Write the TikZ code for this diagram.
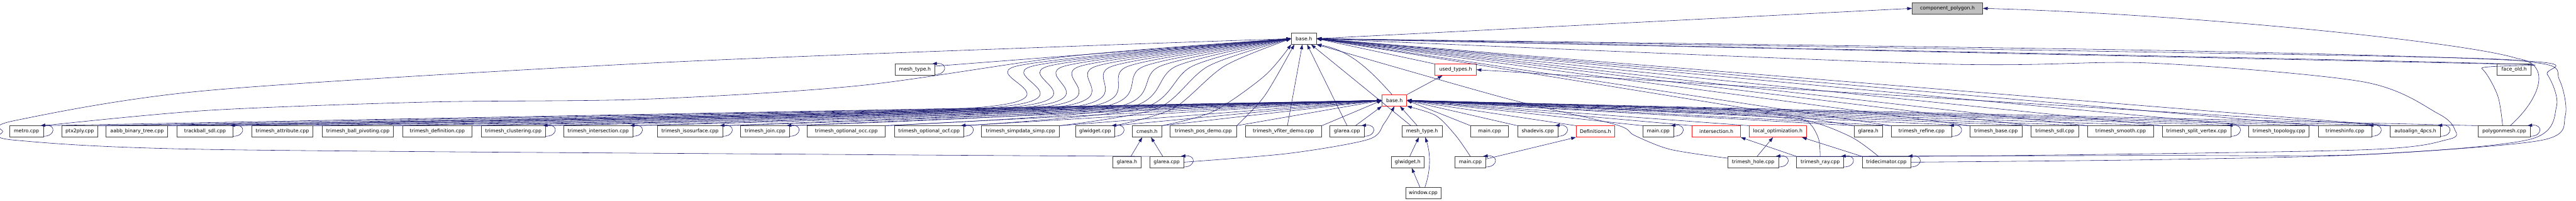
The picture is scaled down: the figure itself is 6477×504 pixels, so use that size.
\documentclass[tikz,border=0pt]{standalone}
\usepackage{fontspec}
\setmainfont{DejaVu Sans}
\usetikzlibrary{arrows.meta}
\definecolor{linkblue}{RGB}{25,25,112}
\definecolor{rootfill}{RGB}{191,191,191}

\begin{document}
\begin{tikzpicture}[x=1pt, y=-1pt,
    file/.style={draw=black!75, line width=1.2pt, fill=white, minimum height=28pt,
      inner sep=1pt, font=\fontsize{12.4}{14}\selectfont},
    cut/.style={file, draw=red!90!white},
    root/.style={file, fill=rootfill},
    inc/.style={draw=linkblue, line width=0.9pt, -{Triangle[length=12pt,width=8pt]}}]
  \useasboundingbox (0,0) rectangle (6477,504);

  % Root and the headers between it and the leaves
  \node[root, minimum width=177pt] (cp) at (4896.5,21) {component\_polygon.h};
  \node[file, minimum width=63pt] (fbase) at (3278.5,97) {base.h};
  \node[file, minimum width=101pt] (mtype2) at (2300.5,175) {mesh\_type.h};
  \node[cut, minimum width=104pt] (used) at (3660,175) {used\_types.h};
  \node[file, minimum width=85pt] (faceold) at (6321.5,175) {face\_old.h};
  \node[cut, minimum width=62pt] (tbase) at (3506,252) {base.h};

  % Leaves, left of base.h
  \node[file, minimum width=85pt] (metro) at (66.5,330) {metro.cpp};
  \node[file, minimum width=89pt] (ptx) at (200.5,330) {ptx2ply.cpp};
  \node[file, minimum width=155pt] (aabb) at (344.5,330) {aabb\_binary\_tree.cpp};
  \node[file, minimum width=141pt] (trackball) at (515.5,330) {trackball\_sdl.cpp};
  \node[file, minimum width=154pt] (attr) at (710,330) {trimesh\_attribute.cpp};
  \node[file, minimum width=178pt] (ballpiv) at (900,330) {trimesh\_ball\_pivoting.cpp};
  \node[file, minimum width=175pt] (defin) at (1099.5,330) {trimesh\_definition.cpp};
  \node[file, minimum width=162pt] (clust) at (1291,330) {trimesh\_clustering.cpp};
  \node[file, minimum width=174pt] (inters) at (1504,330) {trimesh\_intersection.cpp};
  \node[file, minimum width=164pt] (iso) at (1735,330) {trimesh\_isosurface.cpp};
  \node[file, minimum width=123pt] (join) at (1923.5,330) {trimesh\_join.cpp};
  \node[file, minimum width=196pt] (occ) at (2128,330) {trimesh\_optional\_occ.cpp};
  \node[file, minimum width=174pt] (ocf) at (2336,330) {trimesh\_optional\_ocf.cpp};
  \node[file, minimum width=196pt] (simp) at (2566,330) {trimesh\_simpdata\_simp.cpp};
  \node[file, minimum width=97pt] (glwcpp) at (2753.5,330) {glwidget.cpp};
  \node[file, minimum width=74pt] (cmesh) at (2884,330) {cmesh.h};
  \node[file, minimum width=167pt] (posdemo) at (3025.5,330) {trimesh\_pos\_demo.cpp};
  \node[file, minimum width=192pt] (vfiter) at (3227,330) {trimesh\_vfiter\_demo.cpp};
  \node[file, minimum width=86pt] (glareacpp) at (3387,330) {glarea.cpp};
  \node[file, minimum width=101pt] (mtype) at (3575.5,330) {mesh\_type.h};

  % Leaves, right of base.h
  \node[file, minimum width=95pt] (mainA) at (3745.5,330) {main.cpp};
  \node[file, minimum width=101pt] (shadevis) at (3866.5,330) {shadevis.cpp};
  \node[cut, minimum width=97pt] (defs) at (4011.5,330) {Definitions.h};
  \node[file, minimum width=77pt] (mainB) at (4169.5,330) {main.cpp};
  \node[cut, minimum width=121pt] (interh) at (4315.5,330) {intersection.h};
  \node[cut, minimum width=144pt] (localopt) at (4470,330) {local\_optimization.h};
  \node[file, minimum width=71pt] (glareah) at (4697.5,330) {glarea.h};
  \node[file, minimum width=153pt] (refine) at (4831.5,330) {trimesh\_refine.cpp};
  \node[file, minimum width=131pt] (tbasecpp) at (5018.5,330) {trimesh\_base.cpp};
  \node[file, minimum width=119pt] (sdl) at (5166.5,330) {trimesh\_sdl.cpp};
  \node[file, minimum width=166pt] (smooth) at (5332,330) {trimesh\_smooth.cpp};
  \node[file, minimum width=172pt] (splitv) at (5523,330) {trimesh\_split\_vertex.cpp};
  \node[file, minimum width=152pt] (topo) at (5730,330) {trimesh\_topology.cpp};
  \node[file, minimum width=134pt] (tminfo) at (5896,330) {trimeshinfo.cpp};
  \node[file, minimum width=126pt] (autoal) at (6073,330) {autoalign\_4pcs.h};
  \node[file, minimum width=131pt] (polym) at (6296.5,330) {polygonmesh.cpp};

  % Lower rows
  \node[file, minimum width=71pt] (glareah2) at (2833.5,407) {glarea.h};
  \node[file, minimum width=85pt] (glareacpp2) at (2933.5,407) {glarea.cpp};
  \node[file, minimum width=83pt] (glwh) at (3539.5,407) {glwidget.h};
  \node[file, minimum width=78pt] (mainC) at (3697,407) {main.cpp};
  \node[file, minimum width=128pt] (hole) at (4408,407) {trimesh\_hole.cpp};
  \node[file, minimum width=119pt] (ray) at (4576.5,407) {trimesh\_ray.cpp};
  \node[file, minimum width=122pt] (trideci) at (4743,407) {tridecimator.cpp};
  \node[file, minimum width=89pt] (window) at (3578.5,485) {window.cpp};

  % Into component_polygon.h
  \draw[inc] (fbase.east) -- (cp.west);
  \draw[inc] ([xshift=15pt]polym.north) .. controls (6385,250) and (6420,160) .. (6330,147)
    .. controls (6200,105) and (5500,35) .. (cp.east);

  % Into the black base.h
  \draw[inc] ([xshift=-6pt]tbase.north) .. controls (3440,170) and (3390,125) .. (fbase.south east);
  \draw[inc] (used.north west) -- (fbase.east);
  \draw[inc] (glareacpp.north) -- ([xshift=8pt]fbase.south);
  \draw[inc] ([xshift=-28pt]mtype.north) -- ([xshift=18pt]fbase.south);
  \draw[inc] ([yshift=9pt]mtype2.east) -- (fbase.west);
  \draw[inc] plot[smooth, tension=0.5] coordinates {(metro.north east) (523,277) (1080,256)
    (1620,249) (2160,215) (2700,140) (fbase.west)};
  \foreach \n/\s in {ptx/2430, aabb/2470, trackball/2510, attr/2550, ballpiv/2590,
      defin/2630, clust/2670, inters/2710, iso/2750, join/2790, occ/2830, ocf/2870,
      simp/2910, glwcpp/2950}
    \draw[inc] plot[smooth, tension=0.5] coordinates {(\n.north east) (\s,272) (\s+130,165) (fbase.west)};
  \draw[inc] plot[smooth, tension=0.5] coordinates {(cmesh.north east) (3050,280) (3180,190) (fbase.south west)};
  \draw[inc] plot[smooth, tension=0.5] coordinates {(posdemo.north east) (3180,240) ([xshift=8pt]fbase.south west)};
  \draw[inc] ([xshift=10pt]vfiter.north) -- ([xshift=-4pt]fbase.south);
  \foreach \n in {glareah, refine, tbasecpp, sdl, smooth, splitv, topo, tminfo, autoal, faceold}
    \draw[inc] (\n.north west) -- (fbase.east);
  \draw[inc] plot[smooth, tension=0.5] coordinates {([xshift=-4pt]polym.north) (6280,240)
    (6240,172) (6180,157) (fbase.east)};
  \draw[inc] plot[smooth, tension=0.5] coordinates {([yshift=10pt]hole.west) (4200,375)
    (4110,340) (4060,312) (3780,245) (fbase.south east)};

  % Long detours round the far ends
  \draw[inc] plot[smooth, tension=0.5] coordinates {(glareacpp2.north west) (2160,388)
    (523,375) (40,352) (7,330) (40,302) (523,227) (1620,159) (2700,116) (fbase.west)};
  \draw[inc] plot[smooth, tension=0.5] coordinates {(trideci.east) (5400,401) (5940,388)
    (6390,352) (6450,290) (6435,200) (6380,158) (5940,140) (fbase.east)};
  \draw[inc] plot[smooth, tension=0.5] coordinates {(ray.north east) (5400,390) (5940,388)
    (6360,350) (6428,267) (6405,187) (6350,153) (5400,126) (fbase.east)};
  \draw[inc] plot[smooth, tension=0.5] coordinates {(hole.north east) (5000,391) (5940,376)
    (6155,350) (6172,325) (6130,285) (5940,205) (5400,158) (4860,160) (fbase.east)};

  % Into the red base.h
  \foreach \n in {metro, ptx, aabb, trackball, attr, ballpiv, defin, clust, inters, iso,
      join, occ, ocf, simp, glwcpp, cmesh, posdemo, vfiter}
    \draw[inc] (\n.north east) -- (tbase.west);
  \foreach \n in {mainA, shadevis, defs, mainB, interh, localopt, glareah, refine, tbasecpp,
      sdl, smooth, splitv, topo, tminfo, autoal, polym}
    \draw[inc] (\n.north west) -- (tbase.east);
  \draw[inc] ([xshift=-12pt]mtype.north) -- ([xshift=14pt]tbase.south);
  \draw[inc] ([xshift=21pt]glareacpp.north) -- (tbase.south west);
  \draw[inc] plot[smooth, tension=0.5] coordinates {(glareacpp2.east) (3240,385) (3440,350)
    (3480,310) (tbase.south)};
  \draw[inc] plot[smooth, tension=0.5] coordinates {(mainC.north) (3660,340) (3610,290) (tbase.south east)};
  \draw[inc] plot[smooth, tension=0.5] coordinates {(ray.north) (4573,350) (4553,313)
    (4520,300) (4320,285) (tbase.east)};
  \draw[inc] plot[smooth, tension=0.5] coordinates {([xshift=-20pt]trideci.north) (4653,343)
    (4533,300) (4320,275) (tbase.east)};

  % Short links near the bottom
  \draw[inc] (tbase.north east) -- ([xshift=-33pt]used.south);
  \draw[inc] (autoal.north west) -- (used.east);
  \draw[inc] ([xshift=10pt]glareah2.north) -- ([xshift=-12pt]cmesh.south);
  \draw[inc] ([xshift=-10pt]glareacpp2.north) -- ([xshift=10pt]cmesh.south);
  \draw[inc] ([xshift=5pt]glwh.north) -- ([xshift=-8pt]mtype.south);
  \draw[inc] ([xshift=-8pt]window.north) -- ([xshift=10pt]glwh.south);
  \draw[inc] ([xshift=4pt]window.north) .. controls (3600,420) and (3595,380) .. ([xshift=8pt]mtype.south);
  \draw[inc] ([yshift=8pt]mainC.east) -- (defs.south west);
  \draw[inc] (ray.north west) -- (interh.south east);
  \draw[inc] (trideci.north west) -- ([xshift=-12pt]localopt.south east);
  \draw[inc] ([xshift=10pt]hole.north) -- ([xshift=-12pt]localopt.south);

  % Self loops
  \foreach \n in {metro, trackball, clust, inters, iso, join, ocf, glwcpp, glareacpp,
      shadevis, mainB, refine, splitv, tminfo, autoal, polym, mtype2, glareacpp2, mainC,
      hole, ray, trideci}
    \draw[inc] ([yshift=-12pt]\n.east) .. controls +(30pt,0pt) and +(40pt,4pt) .. ([xshift=-8pt]\n.north east);
\end{tikzpicture}
\end{document}
